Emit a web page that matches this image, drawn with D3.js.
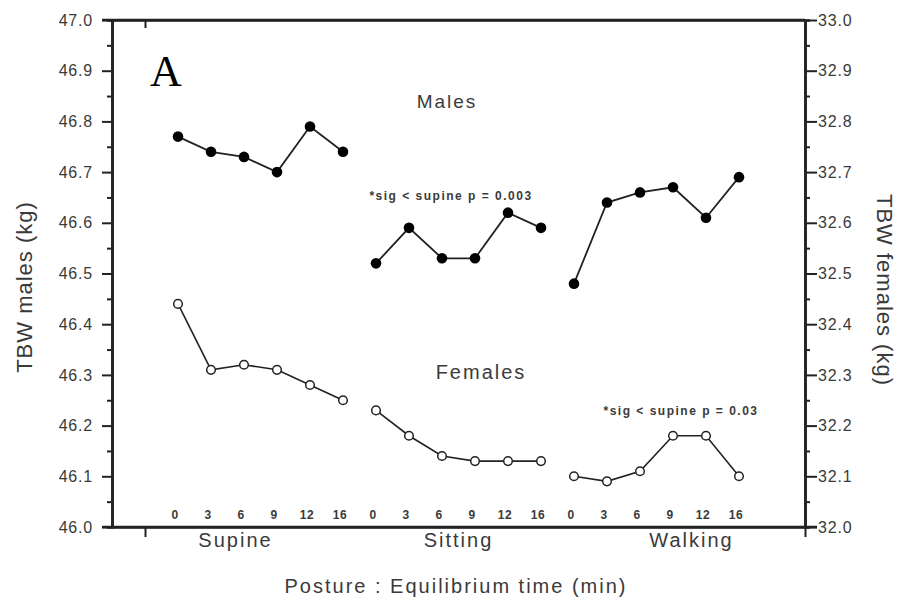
<!DOCTYPE html>
<html><head><meta charset="utf-8">
<script src="https://cdn.jsdelivr.net/npm/d3@7"></script>
<style>body{margin:0;background:#fff}svg{display:block}text{font-family:"Liberation Sans",Arial,sans-serif}</style>
</head><body><svg id="c" width="900" height="602"></svg>
<script>
const postures = ["Supine","Sitting","Walking"];
const times = ["0","3","6","9","12","16"];
const malesSupine  = [46.77,46.74,46.73,46.70,46.79,46.74];
const malesSitting = [46.52,46.59,46.53,46.53,46.62,46.59];
const malesWalking = [46.48,46.64,46.66,46.67,46.61,46.69];
const femalesSupine  = [32.44,32.31,32.32,32.31,32.28,32.25];
const femalesSitting = [32.23,32.18,32.14,32.13,32.13,32.13];
const femalesWalking = [32.10,32.09,32.11,32.18,32.18,32.10];
const leftTicks = [46.0,46.1,46.2,46.3,46.4,46.5,46.6,46.7,46.8,46.9,47.0];
const rightTicks = [32.0,32.1,32.2,32.3,32.4,32.5,32.6,32.7,32.8,32.9,33.0];
const malesNote = "*sig < supine p = 0.003";
const femalesNote = "*sig < supine p = 0.03";

const svg = d3.select("#c");
const L=112, R=805, T=20, B=527;
const x = d3.scaleLinear().domain([-2,19]).range([L,R]);
const yL = d3.scaleLinear().domain([46,47]).range([B,T]);
const yR = d3.scaleLinear().domain([32,33]).range([B,T]);
const ink = "#222", txt="#3a3a3a";

function styleAxis(g){
  g.selectAll(".domain").attr("stroke",ink).attr("stroke-width",2.6);
  g.selectAll(".tick line").attr("stroke",ink).attr("stroke-width",2);
  g.selectAll(".tick text").attr("fill",txt).style("font-size","16px").style("letter-spacing","0.8px").style("font-family","Liberation Sans, Arial, sans-serif");
}
const minorL = d3.range(46.05,47,0.1);
const minorR = d3.range(32.05,33,0.1);

// left axis
svg.append("g").attr("transform",`translate(${L},0)`)
  .call(d3.axisLeft(yL).tickValues(minorL).tickSize(5).tickFormat("")).call(styleAxis);
svg.append("g").attr("transform",`translate(${L},0)`)
  .call(d3.axisLeft(yL).tickValues(leftTicks).tickSize(10).tickSizeOuter(0).tickPadding(9).tickFormat(d3.format(".1f"))).call(styleAxis);
// right axis
svg.append("g").attr("transform",`translate(${R},0)`)
  .call(d3.axisRight(yR).tickValues(minorR).tickSize(5).tickFormat("")).call(styleAxis);
svg.append("g").attr("transform",`translate(${R},0)`)
  .call(d3.axisRight(yR).tickValues(rightTicks).tickSize(12).tickSizeOuter(0).tickPadding(1).tickFormat(d3.format(".1f"))).call(styleAxis);
// bottom / top
svg.append("g").attr("transform",`translate(0,${B})`)
  .call(d3.axisBottom(x).tickValues([-1,19]).tickSize(10).tickSizeOuter(0).tickFormat("")).call(styleAxis);
svg.append("g").attr("transform",`translate(0,${T})`)
  .call(d3.axisTop(x).tickValues([-1]).tickSize(-8).tickSizeOuter(0).tickFormat("")).call(styleAxis);
svg.append("line").attr("x1",L-10).attr("x2",R).attr("y1",T).attr("y2",T).attr("stroke",ink).attr("stroke-width",2.6);
svg.append("line").attr("x1",L-10).attr("x2",R+12).attr("y1",B).attr("y2",B).attr("stroke",ink).attr("stroke-width",2.6);

const groups = [
  {m:malesSupine,f:femalesSupine},
  {m:malesSitting,f:femalesSitting},
  {m:malesWalking,f:femalesWalking}
];
const line = d3.line();
groups.forEach((g,gi)=>{
  const mp = g.m.map((v,i)=>[x(gi*6+i), yL(v)]);
  const fp = g.f.map((v,i)=>[x(gi*6+i), yR(v)]);
  svg.append("path").attr("d",line(mp)).attr("fill","none").attr("stroke",ink).attr("stroke-width",1.8);
  svg.append("path").attr("d",line(fp)).attr("fill","none").attr("stroke",ink).attr("stroke-width",1.6);
  svg.selectAll(null).data(mp).enter().append("circle")
    .attr("cx",d=>d[0]).attr("cy",d=>d[1]).attr("r",5.3).attr("fill","#000");
  svg.selectAll(null).data(fp).enter().append("circle")
    .attr("cx",d=>d[0]).attr("cy",d=>d[1]).attr("r",4.3).attr("fill","#fff").attr("stroke",ink).attr("stroke-width",1.5);
  times.forEach((t,i)=>{
    svg.append("text").attr("x",x(gi*6+i)-3).attr("y",519).attr("text-anchor","middle")
      .style("font-size","12px").style("font-weight","bold").style("letter-spacing","0.5px").attr("fill",txt).text(t);
  });
});
const postureOffsets=[-25,0,35];
postures.forEach((p,i)=>{
  svg.append("text").attr("x",x(i*6+2.5)+postureOffsets[i]).attr("y",547).attr("text-anchor","middle")
    .style("font-size","20px").style("letter-spacing","2px").attr("fill",txt).text(p);
});
svg.append("text").attr("x",456).attr("y",593).attr("text-anchor","middle")
  .style("font-size","20px").style("letter-spacing","2px").attr("fill",txt).text("Posture : Equilibrium time (min)");
svg.append("text").attr("transform","translate(32,287) rotate(-90)").attr("text-anchor","middle")
  .style("font-size","22px").style("letter-spacing","1px").attr("fill",txt).text("TBW males (kg)");
svg.append("text").attr("transform","translate(877,290) rotate(90)").attr("text-anchor","middle")
  .style("font-size","22px").style("letter-spacing","1px").attr("fill",txt).text("TBW females (kg)");
svg.append("text").attr("x",150).attr("y",86).style("font-family","Liberation Serif, Times New Roman, serif")
  .style("font-size","44px").attr("fill","#000").text("A");
svg.append("text").attr("x",447).attr("y",108).attr("text-anchor","middle")
  .style("font-size","19px").style("letter-spacing","2px").attr("fill",txt).text("Males");
svg.append("text").attr("x",481).attr("y",379).attr("text-anchor","middle")
  .style("font-size","20px").style("letter-spacing","2px").attr("fill",txt).text("Females");
svg.append("text").attr("x",451).attr("y",200).attr("text-anchor","middle")
  .style("font-size","12px").style("font-weight","bold").style("letter-spacing","1.5px").attr("fill",txt).text(malesNote);
svg.append("text").attr("x",681).attr("y",415).attr("text-anchor","middle")
  .style("font-size","12px").style("font-weight","bold").style("letter-spacing","1.5px").attr("fill",txt).text(femalesNote);
</script></body></html>
